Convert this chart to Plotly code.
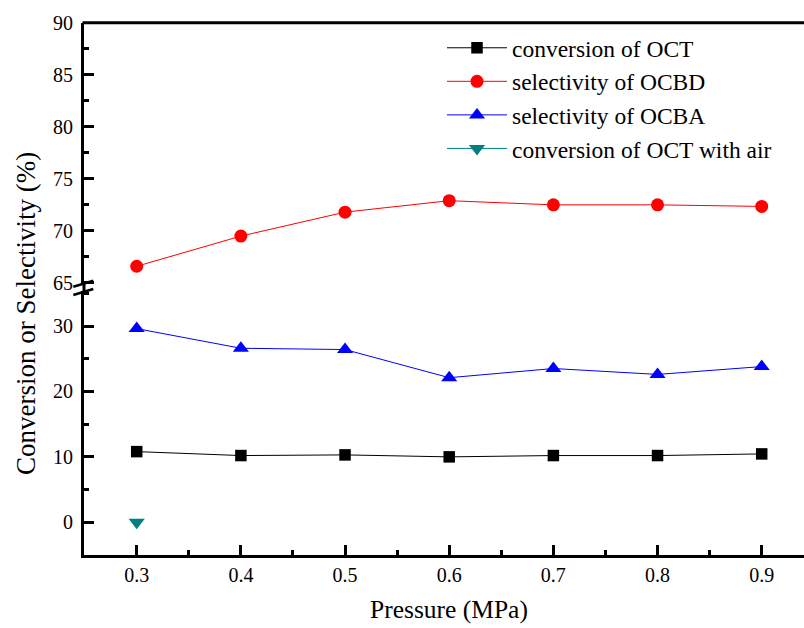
import plotly.graph_objects as go

W, H = 804, 628

# ---- data ----
pressure = [0.3, 0.4, 0.5, 0.6, 0.7, 0.8, 0.9]
conv_oct = [10.8, 10.2, 10.3, 10.0, 10.2, 10.2, 10.45]
sel_ocbd = [66.6, 69.5, 71.8, 72.9, 72.5, 72.5, 72.35]
sel_ocba = [29.6, 26.6, 26.4, 22.1, 23.5, 22.6, 23.8]
air_pressure = [0.3]
conv_air = [0.0]

x_ticks = [0.3, 0.4, 0.5, 0.6, 0.7, 0.8, 0.9]
x_ticklabels = ["0.3", "0.4", "0.5", "0.6", "0.7", "0.8", "0.9"]
upper_ticks = [65, 70, 75, 80, 85, 90]
lower_ticks = [0, 10, 20, 30]

FONT = "Liberation Serif, Times New Roman, Times, serif"


def px_x(x):
    return x / W


def px_y(y):
    return 1 - y / H


fig = go.Figure()

fig.add_trace(go.Scatter(
    x=pressure, y=conv_oct, name="conversion of OCT", mode="lines+markers",
    line=dict(color="black", width=1),
    marker=dict(symbol="square", size=11.5, color="black"),
    xaxis="x", yaxis="y"))
fig.add_trace(go.Scatter(
    x=pressure, y=sel_ocbd, name="selectivity of OCBD", mode="lines+markers",
    line=dict(color="#ff0000", width=1),
    marker=dict(symbol="circle", size=13, color="#ff0000"),
    xaxis="x", yaxis="y2"))
fig.add_trace(go.Scatter(
    x=pressure, y=sel_ocba, name="selectivity of OCBA", mode="lines+markers",
    line=dict(color="#0000ff", width=1),
    marker=dict(symbol="triangle-up", size=14, color="#0000ff"),
    xaxis="x", yaxis="y"))
fig.add_trace(go.Scatter(
    x=air_pressure, y=conv_air, name="conversion of OCT with air", mode="lines+markers",
    line=dict(color="#008080", width=1),
    marker=dict(symbol="triangle-down", size=14, color="#008080"),
    xaxis="x", yaxis="y"))

x0_px, x1_px = 84, 804
top_px, up_bot_px, low_top_px, bot_px = 22.7, 285, 291, 555

tickfont = dict(family=FONT, size=20, color="black")

common = dict(
    ticks="inside", ticklen=10, tickwidth=2.5, tickcolor="black",
    showline=True, linecolor="black", linewidth=3,
    showgrid=False, zeroline=False, automargin=False,
    tickfont=tickfont,
)

fig.update_layout(
    template="none",
    width=W, height=H,
    margin=dict(l=0, r=0, t=0, b=0, pad=0),
    paper_bgcolor="white", plot_bgcolor="white",
    showlegend=True,
    legend=dict(
        x=px_x(442), y=px_y(26), xanchor="left", yanchor="top",
        font=dict(family=FONT, size=23.5, color="black"),
        bgcolor="rgba(0,0,0,0)", itemwidth=60, tracegroupgap=0,
        borderwidth=0,
    ),
    xaxis=dict(
        domain=[px_x(x0_px), px_x(x1_px)],
        range=[0.2494, 0.9406],
        anchor="y",
        tickvals=x_ticks, ticktext=x_ticklabels,
        minor=dict(ticks="inside", ticklen=5, tickwidth=2.5, tickcolor="black", dtick=0.05, tick0=0.25),
        ticklabelstandoff=0,
        **common,
    ),
    yaxis=dict(
        domain=[px_y(bot_px), px_y(low_top_px)],
        range=[-5.0, 35.35],
        anchor="x",
        tickvals=lower_ticks,
        minor=dict(ticks="inside", ticklen=5, tickwidth=2.5, tickcolor="black", dtick=5, tick0=0),
        ticklabelstandoff=4,
        **common,
    ),
    yaxis2=dict(
        domain=[px_y(up_bot_px), px_y(top_px)],
        range=[64.8, 90],
        anchor="x",
        tickvals=upper_ticks,
        minor=dict(ticks="inside", ticklen=5, tickwidth=2.5, tickcolor="black", dtick=2.5, tick0=65),
        ticklabelstandoff=4,
        **common,
    ),
)

shapes = []
# top frame line
shapes.append(dict(type="line", xref="paper", yref="paper",
                   x0=px_x(x0_px - 1.5), x1=1.0, y0=px_y(top_px), y1=px_y(top_px),
                   line=dict(color="black", width=3)))
# continuous left axis through break gap
shapes.append(dict(type="line", xref="paper", yref="paper",
                   x0=px_x(x0_px), x1=px_x(x0_px), y0=px_y(up_bot_px - 1), y1=px_y(low_top_px + 1),
                   line=dict(color="black", width=3)))
# break marks
for dy in (0, 8.3):
    shapes.append(dict(type="line", xref="paper", yref="paper",
                       x0=px_x(73.3), y0=px_y(286.7 + dy), x1=px_x(93.3), y1=px_y(280.7 + dy),
                       line=dict(color="black", width=2.5)))
fig.update_layout(shapes=shapes)

fig.add_annotation(text="Pressure (MPa)", xref="paper", yref="paper",
                   x=px_x(449), y=px_y(609), showarrow=False,
                   xanchor="center", yanchor="middle",
                   font=dict(family=FONT, size=25.5, color="black"))
fig.add_annotation(text="Conversion or Selectivity (%)", xref="paper", yref="paper",
                   x=px_x(26), y=px_y(314), showarrow=False, textangle=-90,
                   xanchor="center", yanchor="middle",
                   font=dict(family=FONT, size=27, color="black"))

fig.write_html("out.html")
